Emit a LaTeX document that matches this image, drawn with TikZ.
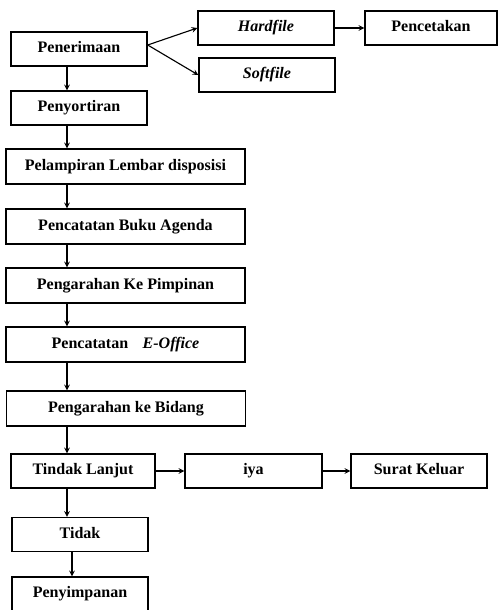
\documentclass[tikz,border=0pt]{standalone}
\usepackage{fontspec}
\setmainfont{Liberation Serif}
\begin{document}
\begin{tikzpicture}[
  box/.style={draw, line width=1pt, minimum width=3.4cm, minimum height=0.85cm, align=center, inner sep=1pt, text height=1.7ex, text depth=0.5ex, font=\fontsize{11.4}{13.7}\selectfont\bfseries},
  widebox/.style={box, minimum width=5.975cm, minimum height=0.875cm},
  link/.style={->, line width=0.8pt},
  >=stealth
]
\useasboundingbox (0,0) rectangle (12.45,-15.25);
\coordinate (spine) at (1.675,0);
\node[box] (pen)  at (1.975,-1.225) {Penerimaan};
\node[box] (hard) at (6.65,-0.7)    {\textit{Hardfile}};
\node[box, minimum width=3.3cm] (cetak) at (10.775,-0.7) {Pencetakan};
\node[box] (soft) at (6.675,-1.875) {\textit{Softfile}};
\node[box] (sor)  at (1.975,-2.7)   {Penyortiran};
\node[widebox] (lamp) at (3.1375,-4.1625) {Pelampiran Lembar disposisi};
\node[widebox] (agen) at (3.1375,-5.6625) {Pencatatan Buku Agenda};
\node[widebox] (pimp) at (3.1375,-7.1375) {Pengarahan Ke Pimpinan};
\node[widebox] (eoff) at (3.1375,-8.6125) {Pencatatan\hspace{0.9em}\textit{E-Office}};
\node[widebox] (bid)  at (3.15,-10.2125) {Pengarahan ke Bidang};
\node[box, minimum width=3.6cm] (tl) at (2.075,-11.775) {Tindak Lanjut};
\node[box, minimum width=3.425cm] (iya) at (6.3375,-11.775) {iya};
\node[box] (surat) at (10.475,-11.775) {Surat Keluar};
\node[box] (tdk)  at (2.0,-13.3625) {Tidak};
\node[box] (simp) at (2.0,-14.85)   {Penyimpanan};
% cabang penerimaan
\draw[link] ([yshift=0.1cm]pen.east) -- (hard.west);
\draw[link] ([yshift=0.1cm]pen.east) -- (soft.west);
\draw[link] (hard) -- (cetak);
% alur utama
\draw[link] (pen.south -| spine) -- (sor.north -| spine);
\draw[link] (sor.south -| spine) -- (lamp.north -| spine);
\draw[link] (lamp.south -| spine) -- (agen.north -| spine);
\draw[link] (agen.south -| spine) -- (pimp.north -| spine);
\draw[link] (pimp.south -| spine) -- (eoff.north -| spine);
\draw[link] (eoff.south -| spine) -- (bid.north -| spine);
\draw[link] (bid.south -| spine) -- (tl.north -| spine);
\draw[link] (tl.south -| spine) -- (tdk.north -| spine);
\draw[link] ([xshift=-0.2cm]tdk.south) -- ([xshift=-0.2cm]simp.north);
% tindak lanjut
\draw[link] (tl) -- (iya);
\draw[link] (iya) -- (surat);
\end{tikzpicture}
\end{document}
